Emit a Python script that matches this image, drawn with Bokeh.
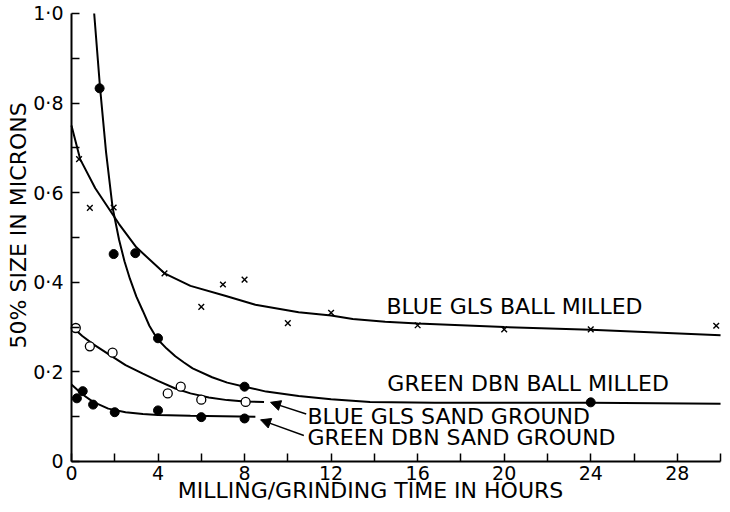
import math
from bokeh.plotting import figure
from bokeh.models import FixedTicker, Range1d, Arrow, NormalHead, Label
from bokeh.core.properties import value
from bokeh.embed import file_html
from bokeh.resources import INLINE

# ---------------- data ----------------
x_ticks = [0, 4, 8, 12, 16, 20, 24, 28]
x_minor = [2, 6, 10, 14, 18, 22, 26, 30]
y_ticks = [0, 0.2, 0.4, 0.6, 0.8, 1.0]
y_minor = [0.1, 0.3, 0.5, 0.7, 0.9]
y_tick_labels = ["0", "0·2", "0·4", "0·6", "0·8", "1·0"]

x_title = "MILLING/GRINDING TIME IN HOURS"
y_title = "50% SIZE IN MICRONS"

# Blue GLS ball milled (x markers)
blue_ball_t = [0.35, 0.85, 1.95, 4.3, 6.0, 7.0, 8.0, 10.0, 12.0, 16.0, 20.0, 24.0, 29.8]
blue_ball_v = [0.675, 0.566, 0.567, 0.42, 0.345, 0.395, 0.406, 0.309, 0.332, 0.304, 0.295, 0.295, 0.303]
blue_ball_fit_t = [0, 0.4, 1.1, 2.2, 3.0, 4.3, 5.5, 7.1, 8.5, 10.5, 12.0, 13.0, 14.5, 16.0, 20.0, 24.0, 30.0]
blue_ball_fit_v = [0.75, 0.675, 0.61, 0.53, 0.478, 0.42, 0.392, 0.37, 0.35, 0.333, 0.326, 0.318, 0.312, 0.308, 0.300, 0.294, 0.282]

# Green DBN ball milled (filled circles)
green_ball_t = [1.3, 1.95, 2.95, 4.0, 8.0, 24.0]
green_ball_v = [0.833, 0.463, 0.465, 0.275, 0.167, 0.132]
green_ball_fit_t = [1.05, 1.32, 1.6, 1.9, 2.2, 2.45, 2.7, 3.0, 3.3, 3.6, 3.96, 4.4, 4.8, 5.2, 5.6,
                    6.5, 7.2, 8.0, 9.0, 10.5, 12.0, 13.8, 16.8, 24.0, 30.0]
green_ball_fit_v = [1.0, 0.835, 0.69, 0.567, 0.495, 0.447, 0.408, 0.368, 0.336, 0.303, 0.274, 0.252, 0.235,
                    0.221, 0.208, 0.188, 0.176, 0.167, 0.156, 0.146, 0.139, 0.133, 0.131, 0.131, 0.129]

# Blue GLS sand ground (open circles)
blue_sand_t = [0.2, 0.85, 1.9, 4.45, 5.05, 6.0, 8.05]
blue_sand_v = [0.298, 0.257, 0.243, 0.152, 0.167, 0.138, 0.133]
blue_sand_fit_t = [0, 0.5, 1.0, 1.8, 2.5, 3.3, 4.0, 4.8, 5.5, 6.35, 7.2, 8.0, 8.9]
blue_sand_fit_v = [0.302, 0.28, 0.262, 0.237, 0.215, 0.196, 0.18, 0.163, 0.152, 0.143, 0.137, 0.134, 0.133]

# Green DBN sand ground (filled circles)
green_sand_t = [0.25, 0.52, 1.0, 2.0, 4.0, 6.0, 8.0]
green_sand_v = [0.141, 0.157, 0.127, 0.110, 0.114, 0.099, 0.096]
green_sand_fit_t = [0, 0.5, 1.0, 1.7, 2.5, 3.3, 4.0, 5.5, 7.0, 8.5]
green_sand_fit_v = [0.172, 0.15, 0.133, 0.118, 0.11, 0.106, 0.104, 0.102, 0.101, 0.100]

series_names = ["BLUE GLS BALL MILLED", "GREEN DBN BALL MILLED",
                "BLUE GLS SAND GROUND", "GREEN DBN SAND GROUND"]

# ---------------- figure ----------------
FONT = "DejaVu Sans"
# the frame covers the whole canvas; the axes are drawn at t=0 and size=0 (bounded),
# so that the axis titles can sit where the original drawing has them
p = figure(width=722, height=504, output_backend="svg", toolbar_location=None,
           x_range=Range1d(-3.28, 30.09), y_range=Range1d(-0.096, 1.029),
           min_border_left=0, min_border_right=0, min_border_top=0, min_border_bottom=0)
p.outline_line_color = None
p.grid.visible = False
p.background_fill_color = "white"
p.border_fill_color = "white"

for ax in (p.xaxis[0], p.yaxis[0]):
    ax.fixed_location = 0
    ax.axis_line_width = 2
    ax.axis_line_color = "black"
    ax.major_tick_in = 8
    ax.major_tick_out = 0
    ax.minor_tick_in = 8
    ax.minor_tick_out = 0
    ax.major_tick_line_width = 1.5
    ax.minor_tick_line_width = 1.5
    ax.major_tick_line_color = "black"
    ax.minor_tick_line_color = "black"
    ax.major_label_text_font = FONT
    ax.major_label_text_font_size = "19px"
    ax.major_label_text_color = "black"

p.xaxis.bounds = (0, 30)
p.yaxis.bounds = (0, 1.0)
p.xaxis.ticker = FixedTicker(ticks=x_ticks, minor_ticks=x_minor)
p.yaxis.ticker = FixedTicker(ticks=y_ticks, minor_ticks=y_minor)
p.yaxis.major_label_overrides = {t: l for t, l in zip(y_ticks, y_tick_labels)}
p.xaxis.major_label_standoff = 5
p.yaxis.major_label_standoff = 8

# axis titles, placed as in the original drawing (not centred on the axes)
p.add_layout(Label(x=13.82, y=-0.065, text=x_title, text_font=FONT, text_font_size="22px",
                   text_align="center", text_baseline="middle", text_color="black"))
p.add_layout(Label(x=-2.47, y=0.527, text=y_title, angle=math.pi / 2, text_font=FONT,
                   text_font_size="22px", text_align="center", text_baseline="middle",
                   text_color="black"))

# fitted curves
for ft, fv in [(blue_ball_fit_t, blue_ball_fit_v), (green_ball_fit_t, green_ball_fit_v),
               (blue_sand_fit_t, blue_sand_fit_v), (green_sand_fit_t, green_sand_fit_v)]:
    p.line(ft, fv, line_color="black", line_width=2)

# points
p.scatter(blue_ball_t, blue_ball_v, marker="x", size=8, line_color="black", line_width=1.4)
p.scatter(green_ball_t, green_ball_v, marker="circle", size=9, fill_color="black", line_color="black")
p.scatter(blue_sand_t, blue_sand_v, marker="circle", size=9, fill_color="white", line_color="black", line_width=1.3)
p.scatter(green_sand_t, green_sand_v, marker="circle", size=9, fill_color="black", line_color="black")

# series labels (annotation positions in data units)
label_x = [14.56, 14.6, 10.91, 10.91]
label_y = [0.346, 0.173, 0.100, 0.054]
p.text(x=label_x, y=label_y, text=series_names, text_font=value(FONT), text_font_size="22px",
       text_align="left", text_baseline="middle", text_color="black")

# arrows to the sand-ground curves
for xs, ys, xe, ye in [(10.85, 0.106, 9.2, 0.132), (10.74, 0.058, 8.74, 0.093)]:
    p.add_layout(Arrow(end=NormalHead(size=10, fill_color="black", line_color="black", line_width=1),
                       x_start=xs, y_start=ys, x_end=xe, y_end=ye,
                       line_color="black", line_width=1.4))

open("out.html", "w").write(file_html(p, INLINE))
